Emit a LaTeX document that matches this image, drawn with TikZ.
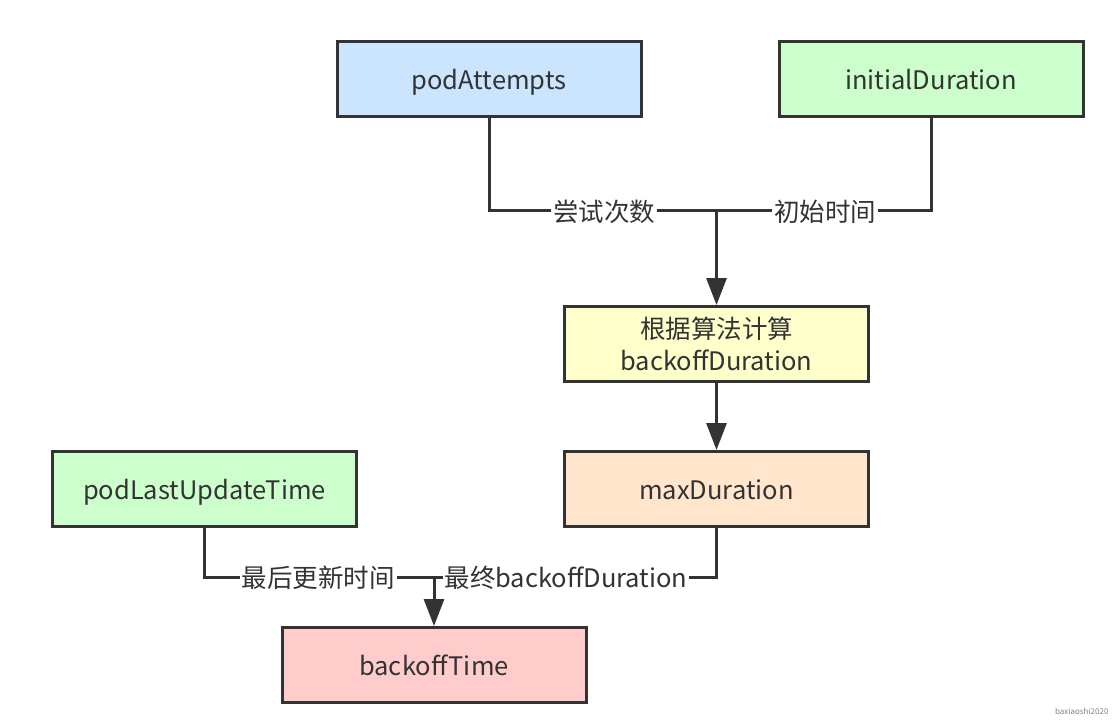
\documentclass[tikz,border=0pt]{standalone}
\usepackage{fontspec}
\setmainfont{Noto Sans CJK SC}
\usetikzlibrary{arrows.meta}
\definecolor{ink}{HTML}{333333}
\definecolor{cblue}{HTML}{CCE5FF}
\definecolor{cgreen}{HTML}{CCFFCC}
\definecolor{cyellow}{HTML}{FFFFCC}
\definecolor{corange}{HTML}{FFE6CC}
\definecolor{cred}{HTML}{FFCCCC}
\tikzset{
  box/.style={draw=ink, line width=3pt, minimum width=304pt, minimum height=75pt, inner sep=0pt,
    text=ink, align=center, font=\fontsize{25.5}{32}\selectfont},
  one/.style={text height=21pt, text depth=0pt},
  edge/.style={draw=ink, line width=3pt},
  arr/.style={edge, -{Triangle[width=20pt,length=27pt]}},
  lbl/.style={fill=white, text=ink, inner sep=2pt, font=\fontsize{25.5}{30}\selectfont},
}
\begin{document}
\begin{tikzpicture}[x=1pt,y=-1pt]
\useasboundingbox (0,0) rectangle (1120,724);
\node[box, one, fill=cblue] (pa) at (489,79) {podAttempts};
\node[box, one, fill=cgreen] (init) at (931,79) {initialDuration};
\node[box, fill=cyellow] (alg) at (716.5,344) {根据算法计算\\backoffDuration};
\node[box, one, fill=corange] (max) at (716.5,489) {maxDuration};
\node[box, one, fill=cgreen] (last) at (204.5,489) {podLastUpdateTime};
\node[box, one, fill=cred] (bt) at (434,665) {backoffTime};
\coordinate (j1) at (716.5,210);
\coordinate (j2) at (434,577);
\draw[edge] (pa.south) |- (j1);
\draw[edge] (init.south) |- (j1);
\draw[arr] (j1) -- (alg.north);
\draw[arr] (alg.south) -- (max.north);
\draw[edge] (last.south) |- (j2);
\draw[edge] (max.south) |- (j2);
\draw[arr] (j2) -- (bt.north);
\node[lbl] (l1) at (604,212) {尝试次数};
\node[lbl] (l2) at (825,212) {初始时间};
\node[lbl] (l3) at (318,578) {最后更新时间};
\node[lbl] (l4) at (566,578) {最终backoffDuration};
\node[text=gray, font=\fontsize{8}{10}\selectfont, anchor=east] (wm) at (1112,711) {baxiaoshi2020};
\end{tikzpicture}
\end{document}
